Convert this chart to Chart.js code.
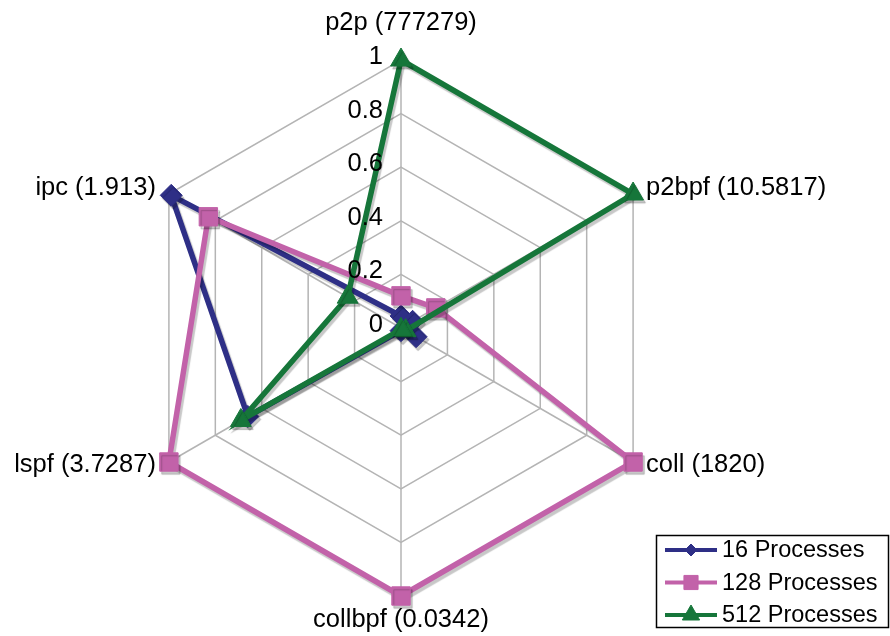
<!DOCTYPE html>
<html>
<head>
<meta charset="utf-8">
<script src="https://cdn.jsdelivr.net/npm/chart.js@4.4.0/dist/chart.umd.min.js"></script>
<style>
    body { margin: 0; background: #fff; }
    canvas { display: block; }
</style>
</head>
<body>
<canvas id="radar" width="890" height="636"></canvas>
<script>
// axele radarului (in ordinea acelor de ceasornic, de sus)
var axes = ['p2p (777279)', 'p2bpf (10.5817)', 'coll (1820)', 'collbpf (0.0342)', 'lspf (3.7287)', 'ipc (1.913)'];
var tickValues = [0, 0.2, 0.4, 0.6, 0.8, 1];
var seriesNames = ['16 Processes', '128 Processes', '512 Processes'];

// valori normalizate
var proc16 = [0.045, 0.05, 0.065, 0.01, 0.66, 0.99];
var proc128 = [0.12, 0.15, 1, 1, 1, 0.83];
var proc512 = [1, 1, 0.02, 0.005, 0.69, 0.23];

var colors = ['#2e2f86', '#c262a9', '#16763a'];
var styles = ['rectRot', 'rect', 'triangle'];
var radii = [11, 13, 12];
var legendRadii = [6, 10, 10];
var FONT = "'Liberation Sans', Arial, sans-serif";

function makeDataset(i, values) {
    return {
        label: seriesNames[i],
        data: values,
        borderColor: colors[i],
        backgroundColor: colors[i],
        pointBackgroundColor: colors[i],
        pointBorderColor: colors[i],
        pointStyle: styles[i],
        pointRadius: radii[i],
        pointBorderWidth: 1,
        borderWidth: 5.5,
        fill: false,
        order: 2 - i
    };
}

// etichete, tick-uri si legenda desenate peste grafic
var extras = {
    id: 'extras',
    beforeDatasetsDraw(chart) {
        var ctx = chart.ctx;
        ctx.save();
        ctx.shadowColor = 'rgba(0,0,0,0.22)';
        ctx.shadowOffsetX = 2;
        ctx.shadowOffsetY = 3;
        ctx.shadowBlur = 1;
    },
    afterDatasetsDraw(chart) {
        chart.ctx.restore();
    },
    afterDraw(chart) {
        var ctx = chart.ctx;
        var scale = chart.scales.r;
        ctx.save();
        ctx.fillStyle = '#000';
        ctx.font = '25.5px ' + FONT;
        ctx.textBaseline = 'middle';

        // tick-uri
        ctx.textAlign = 'right';
        tickValues.forEach(function (v) {
            var p = scale.getPointPositionForValue(0, v);
            ctx.fillText(String(v), p.x - 18, p.y - 3);
        });

        // etichetele axelor
        axes.forEach(function (label, i) {
            var p = scale.getPointPositionForValue(i, 1);
            var dx = p.x - scale.xCenter;
            var dy = p.y - scale.yCenter;
            if (Math.abs(dx) < 1) {
                ctx.textAlign = 'center';
                ctx.fillText(label, p.x, dy < 0 ? p.y - 37 : p.y + 24);
            } else {
                ctx.textAlign = dx > 0 ? 'left' : 'right';
                ctx.fillText(label, p.x + (dx > 0 ? 13 : -13), p.y + (dy < 0 ? -6 : 3));
            }
        });

        // legenda
        var lx = 656, ly = 535, lw = 232, lh = 92;
        ctx.lineWidth = 1.5;
        ctx.strokeStyle = '#000';
        ctx.strokeRect(lx + 0.5, ly + 0.5, lw, lh);
        ctx.font = '23.5px ' + FONT;
        ctx.textAlign = 'left';
        seriesNames.forEach(function (name, i) {
            var y = ly + 15 + i * 32.5;
            ctx.strokeStyle = colors[i];
            ctx.fillStyle = colors[i];
            ctx.lineWidth = 4;
            ctx.beginPath();
            ctx.moveTo(lx + 9, y);
            ctx.lineTo(lx + 61, y);
            ctx.stroke();
            ctx.lineWidth = 1;
            Chart.helpers.drawPoint(ctx, { pointStyle: styles[i], radius: legendRadii[i], borderWidth: 1, rotation: 0 }, lx + 35, y);
            ctx.fillStyle = '#000';
            ctx.fillText(name, lx + 66, y + 1);
        });
        ctx.restore();
    }
};

var ctx = document.getElementById('radar').getContext('2d');
var radarChart = new Chart(ctx, {
    type: 'radar',
    data: {
        labels: axes,
        datasets: [makeDataset(0, proc16), makeDataset(1, proc128), makeDataset(2, proc512)]
    },
    options: {
        responsive: false,
        animation: false,
        layout: {
            padding: { left: 133, right: 221, top: 60, bottom: 40 }
        },
        elements: {
            line: { tension: 0 }
        },
        plugins: {
            legend: { display: false },
            tooltip: { enabled: false }
        },
        scales: {
            r: {
                min: 0,
                max: 1,
                ticks: { stepSize: 0.2, display: false },
                grid: { color: '#b4b4b4', lineWidth: 1.5 },
                angleLines: { color: '#b4b4b4', lineWidth: 1.5 },
                pointLabels: { display: false }
            }
        }
    },
    plugins: [extras]
});
</script>
</body>
</html>
